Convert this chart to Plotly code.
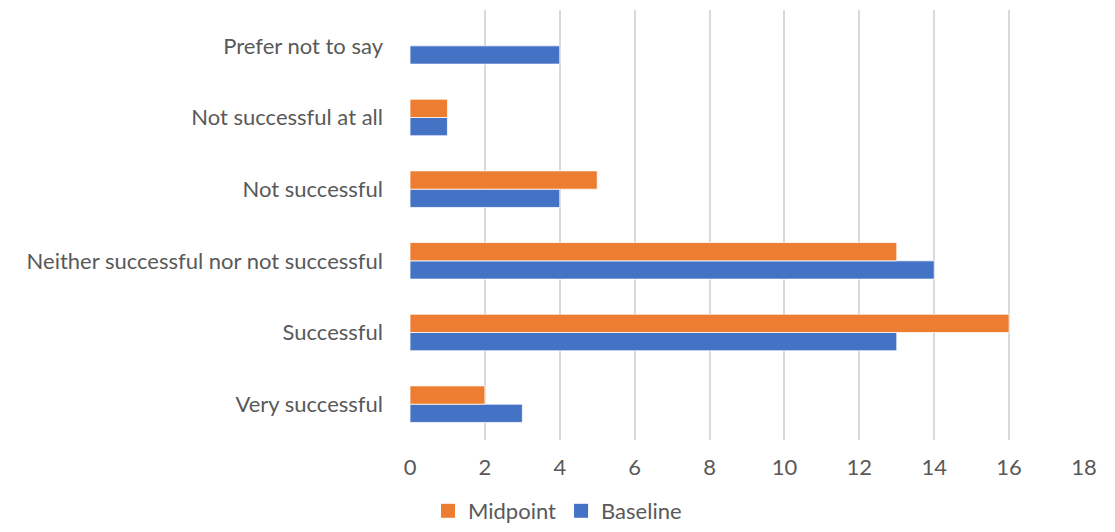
import plotly.graph_objects as go

# Survey responses, listed bottom to top as drawn on the y axis
categories = [
    "Very successful",
    "Successful",
    "Neither successful nor not successful",
    "Not successful",
    "Not successful at all",
    "Prefer not to say",
]
baseline = [3, 13, 14, 4, 1, 4]
midpoint = [2, 16, 13, 5, 1, 0]

x_ticks = [0, 2, 4, 6, 8, 10, 12, 14, 16, 18]

BLUE = "#4472C4"
ORANGE = "#ED7D31"
TEXT = "#595959"
FONT = "Lato"
SIZE = 22

fig = go.Figure()
fig.add_trace(go.Bar(
    y=categories, x=baseline, name="Baseline", orientation="h",
    marker=dict(color=BLUE, line=dict(color="white", width=0.75)),
    showlegend=False,
))
fig.add_trace(go.Bar(
    y=categories, x=midpoint, name="Midpoint", orientation="h",
    marker=dict(color=ORANGE, line=dict(color="white", width=0.75)),
    showlegend=False,
))

# Square legend keys
for name, color in [("Midpoint", ORANGE), ("Baseline", BLUE)]:
    fig.add_trace(go.Scatter(
        x=[None], y=[None], mode="markers", name=name,
        marker=dict(symbol="square", size=14, color=color),
    ))

fig.update_layout(
    width=1115, height=532,
    margin=dict(l=410, r=31, t=10, b=92),
    paper_bgcolor="white", plot_bgcolor="white",
    barmode="group", bargap=0.49, bargroupgap=0,
    font=dict(family=FONT, size=SIZE, color=TEXT),
    xaxis=dict(
        range=[0, 18], tickvals=x_ticks, showgrid=True,
        gridcolor="#D9D9D9", gridwidth=1.5, zeroline=False,
        showline=False, ticks="", ticklabelstandoff=12,
        tickfont=dict(size=SIZE, color=TEXT),
    ),
    yaxis=dict(
        categoryorder="array", categoryarray=categories,
        showgrid=False, zeroline=False, showline=False, ticks="",
        ticklabelstandoff=26, tickfont=dict(size=SIZE, color=TEXT),
    ),
    legend=dict(
        orientation="h", xref="container", yref="container",
        x=0.5, xanchor="center", y=0.0, yanchor="bottom",
        font=dict(size=SIZE, color=TEXT), itemwidth=30,
        tracegroupgap=0,
    ),
    showlegend=True,
)

fig.write_html("out.html")
